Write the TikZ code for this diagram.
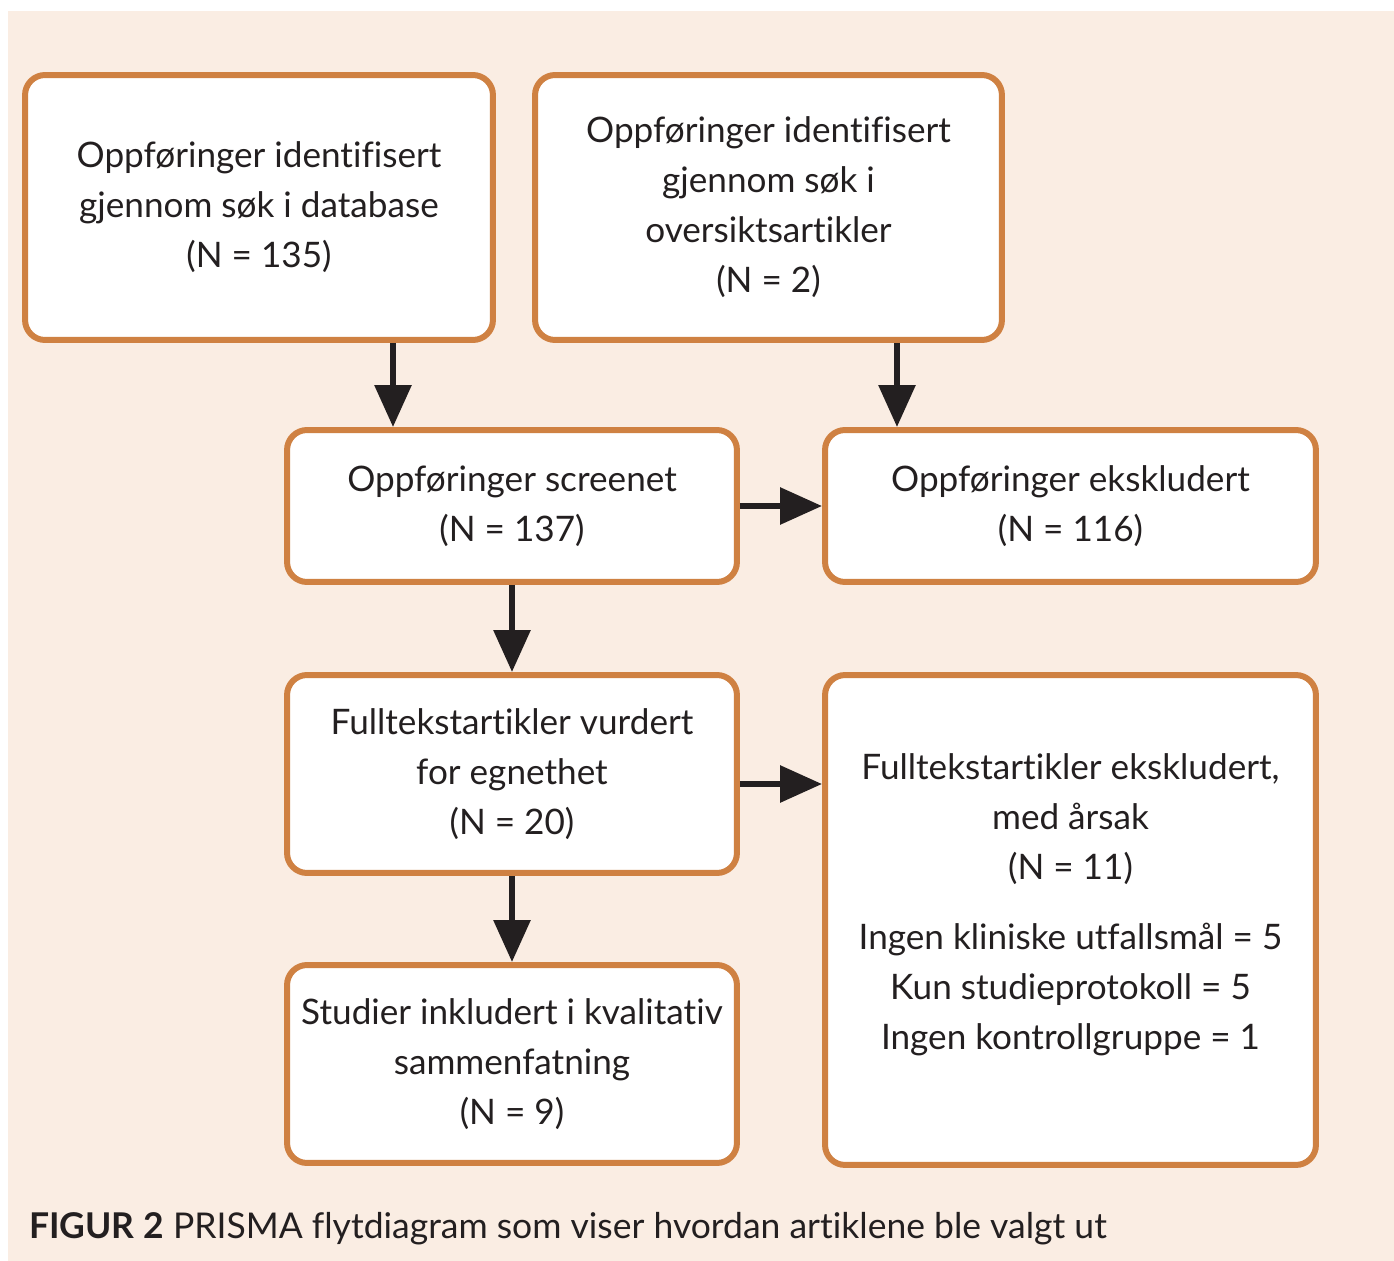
\documentclass[tikz,border=0pt]{standalone}
\usepackage{fontspec}
\setmainfont{Lato}[Ligatures=NoCommon]
\usetikzlibrary{arrows.meta}
\definecolor{peach}{RGB}{250,237,227}
\definecolor{boxorange}{RGB}{207,129,66}
\definecolor{ink}{RGB}{35,31,32}
\begin{document}
\begin{tikzpicture}[x=0.02cm,y=-0.02cm,
  box/.style={draw=boxorange,fill=white,line width=0.12cm,rounded corners=0.4cm,
    inner sep=0pt,align=center,text=ink,font=\fontsize{20}{28.45}\selectfont},
  txt/.style={align=center,text=ink,font=\fontsize{20}{28.45}\selectfont},
  arr/.style={draw=ink,line width=0.12cm,
    -{Triangle[length=0.84cm,width=0.72cm]}}]
\useasboundingbox (0,0) rectangle (1394,1261);
\fill[white] (0,0) rectangle (1394,1261);
\fill[peach] (8,11) rectangle (1394,1261);

\node[box,minimum width=9.36cm,minimum height=5.3cm] (A) at (259,207.5)
  {Oppføringer identifisert\\gjennom søk i database\\(N = 135)};
\node[box,minimum width=9.34cm,minimum height=5.3cm] (B) at (768.5,207.5)
  {Oppføringer identifisert\\gjennom søk i\\oversiktsartikler\\(N = 2)};
\node[box,minimum width=9cm,minimum height=3.04cm] (C) at (512,506)
  {Oppføringer screenet\\(N = 137)};
\node[box,minimum width=9.82cm,minimum height=3.04cm] (D) at (1070.5,506)
  {Oppføringer ekskludert\\(N = 116)};
\node[box,minimum width=9cm,minimum height=3.96cm] (E) at (512,774)
  {Fulltekstartikler vurdert\\for egnethet\\(N = 20)};
\node[box,minimum width=9.82cm,minimum height=9.8cm] (F) at (1070.5,920) {};
\node[txt] (Ftxt) at (1070.5,905)
  {Fulltekstartikler ekskludert,\\med årsak\\(N = 11)\\[0.4cm]
   Ingen kliniske utfallsmål = 5\\Kun studieprotokoll = 5\\Ingen kontrollgruppe = 1};
\node[box,minimum width=9cm,minimum height=3.96cm] (G) at (512,1064)
  {Studier inkludert i kvalitativ\\sammenfatning\\(N = 9)};

\coordinate (ax) at (393,0);
\coordinate (bx) at (897,0);
\draw[arr] (A.south -| ax) -- (C.north -| ax);
\draw[arr] (B.south -| bx) -- (D.north -| bx);
\draw[arr] (C.east) -- (D.west);
\draw[arr] (C.south) -- (E.north);
\draw[arr] ([yshift=-0.2cm]E.east) -- ([yshift=-0.2cm]E.east -| F.west);
\draw[arr] (E.south) -- (G.north);

\node[anchor=base west,text=ink,font=\fontsize{20.2}{24}\selectfont] (cap) at (23,1238)
  {\textbf{FIGUR 2} PRISMA flytdiagram som viser hvordan artiklene ble valgt ut};
\end{tikzpicture}
\end{document}
